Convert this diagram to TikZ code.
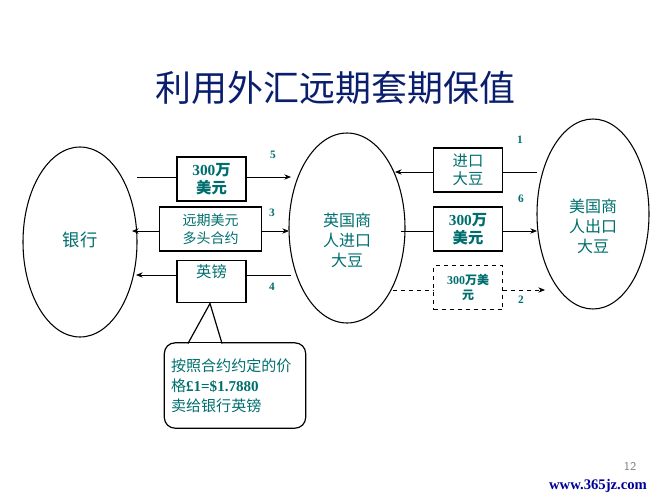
\documentclass[tikz,border=0pt]{standalone}
\usepackage{fontspec}
\setmainfont{Liberation Serif}
\newfontfamily\cjk{Noto Sans CJK SC}
\usetikzlibrary{arrows.meta}
\definecolor{tealtxt}{RGB}{0,110,110}
\definecolor{titleblue}{RGB}{10,30,110}
\tikzset{
 bx/.style={draw,line width=0.9pt,minimum width=51.75pt,minimum height=33pt,inner sep=1pt,align=center,text=tealtxt,font=\cjk\fontsize{11.5}{13.5}\selectfont},
 num/.style={text=tealtxt,font=\bfseries\fontsize{8.5}{9}\selectfont},
 arr/.style={-{Stealth[length=5pt,width=4pt]},line width=0.6pt},
}
\begin{document}
\begin{tikzpicture}[x=0.75pt,y=-0.75pt]
\useasboundingbox (0,0) rectangle (667,500);
\node[text=titleblue,font=\cjk\fontsize{27}{30}\selectfont] (title) at (335,88) {利用外汇远期套期保值};
\draw[line width=0.8pt] (80,242) ellipse [x radius=57,y radius=95];
\draw[line width=0.8pt] (347,228) ellipse [x radius=58,y radius=95];
\draw[line width=0.8pt] (593,214) ellipse [x radius=56,y radius=95];
\node[text=tealtxt,font=\cjk\fontsize{13}{15}\selectfont] (bank) at (80,240) {银行};
\node[text=tealtxt,align=center,font=\cjk\fontsize{12}{15}\selectfont] (uk) at (347,240) {英国商\\人进口\\大豆};
\node[text=tealtxt,align=center,font=\cjk\fontsize{12}{15}\selectfont] (us) at (593,226) {美国商\\人出口\\大豆};
\coordinate (bL) at (137,177); \coordinate (bR) at (132,231); \coordinate (bT) at (136,275);
\coordinate (uL1) at (291,177); \coordinate (uL2) at (289,231); \coordinate (uL3) at (291,275);
\coordinate (uR1) at (395,172); \coordinate (uR2) at (401,231); \coordinate (uR3) at (393,290);
\coordinate (sL1) at (537,172); \coordinate (sL2) at (537,231); \coordinate (sL3) at (545,290);
\node[bx,font=\cjk\bfseries\fontsize{11.5}{13.5}\selectfont] (b5) at (211.5,179) {\rmfamily 300{\cjk 万}\\美元};
\node[bx,minimum width=77pt,font=\cjk\fontsize{10.5}{13}\selectfont] (b3) at (210.5,229) {远期美元\\多头合约};
\node[bx,minimum height=32pt] (b4) at (211.5,281.5) {};
\node[text=tealtxt,font=\cjk\fontsize{11.5}{12}\selectfont] (b4t) at (211.5,272) {英镑};
\node[bx] (b1) at (468,170) {进口\\大豆};
\node[bx,font=\cjk\bfseries\fontsize{11.5}{13.5}\selectfont] (b6) at (468,229) {\rmfamily 300{\cjk 万}\\美元};
\node[bx,dashed,line width=0.7pt,font=\cjk\bfseries\fontsize{9}{11.5}\selectfont] (b2) at (468,287.5) {\rmfamily 300{\cjk 万美}\\元};
\draw (bL) -- (b5.west|-bL); \draw[arr] (b5.east|-uL1) -- (uL1);
\draw[arr] (b3.west|-bR) -- (bR); \draw[arr] (b3.east|-uL2) -- (uL2);
\draw (uL3) -- (b4.east|-uL3); \draw[arr] (b4.west|-bT) -- (bT);
\draw[line width=0.6pt] (sL1) -- (b1.east|-sL1); \draw[arr] (b1.west|-uR1) -- (uR1);
\draw (uR2) -- (b6.west|-uR2); \draw[arr] (b6.east|-sL2) -- (sL2);
\draw[dashed] (uR3) -- (b2.west|-uR3); \draw[arr,dashed] (b2.east|-sL3) -- (sL3);
\node[num] (n5) at (273,155) {5};
\node[num] (n3) at (272,213) {3};
\node[num] (n4) at (272,287) {4};
\node[num] (n1) at (520,140) {1};
\node[num] (n6) at (521,199) {6};
\node[num] (n2) at (521,300) {2};
\node[draw,line width=0.9pt,rounded corners=8pt,minimum width=106pt,minimum height=64pt,text width=96pt,align=left,text=tealtxt,font=\cjk\fontsize{11.3}{15}\selectfont,inner sep=4pt] (call) at (235,385.5) {按照合约约定的价\\格{\bfseries\rmfamily £1=\$1.7880}\\卖给银行英镑};
\coordinate (cA) at (188,343.4); \coordinate (cB) at (222,343.4);
\draw[line width=0.9pt] (cA) -- (210,303.5) -- (cB);
\draw[white,line width=1.2pt] ([xshift=0.8pt]cA) -- ([xshift=-0.8pt]cB);
\node[text=gray,font=\sffamily\fontsize{9}{10}\selectfont] (pg) at (630,466) {12};
\node[text=blue!60!black,font=\bfseries\fontsize{11}{12}\selectfont] (wm) at (598,486) {www.365jz.com};
\end{tikzpicture}
\end{document}
